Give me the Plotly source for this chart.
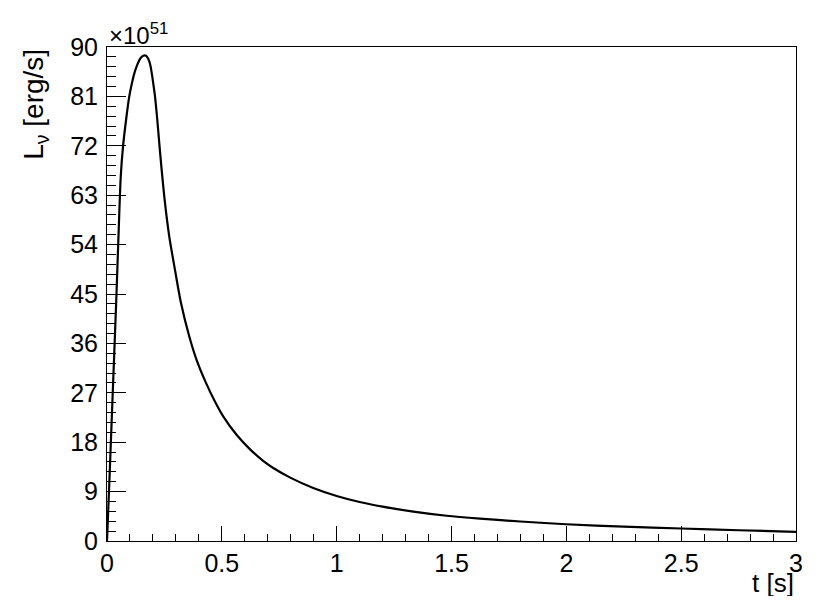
import plotly.graph_objects as go

# Time (s) and neutrino luminosity (units of 1e51 erg/s)
t_s = [0.0, 0.01, 0.02, 0.03, 0.04, 0.05, 0.06, 0.07, 0.083, 0.097, 0.108, 0.119,
       0.132, 0.145, 0.158, 0.17, 0.18, 0.188, 0.195, 0.202, 0.209, 0.219, 0.228,
       0.238, 0.2525, 0.271, 0.296, 0.322, 0.358, 0.39, 0.431, 0.47, 0.506, 0.565,
       0.623, 0.68, 0.724, 0.8, 0.898, 1.0, 1.1, 1.2, 1.334, 1.479, 1.624, 1.8,
       2.0, 2.25, 2.5, 2.75, 3.0]
L_nu = [0.0, 10.5, 21.5, 32.5, 43.5, 55.5, 66.5, 72.0, 76.7, 81.0, 83.3, 85.2,
        86.8, 87.9, 88.4, 88.4, 87.8, 86.8, 85.2, 83.2, 81.0, 76.7, 72.3,
        67.6, 61.6, 55.5, 49.4, 43.4, 37.3, 33.0, 28.8, 25.4, 22.7, 19.3,
        16.7, 14.6, 13.3, 11.5, 9.66, 8.2, 7.1, 6.25, 5.35, 4.6, 4.08, 3.55,
        3.05, 2.62, 2.28, 1.96, 1.67]

x_tickvals = [0, 0.5, 1, 1.5, 2, 2.5, 3]
x_ticktext = ["0", "0.5", "1", "1.5", "2", "2.5", "3"]
y_tickvals = [0, 9, 18, 27, 36, 45, 54, 63, 72, 81, 90]
y_ticktext = ["0", "9", "18", "27", "36", "45", "54", "63", "72", "81", "90"]
x_range = [0, 3]
y_range = [0, 90]
x_minor, y_minor = 0.1, 1.8

FONT = "Liberation Sans, Arial, Helvetica, sans-serif"
FS = 25

fig = go.Figure()
fig.add_trace(go.Scatter(
    x=t_s, y=L_nu, mode="lines",
    line=dict(color="black", width=2.2, shape="spline", smoothing=0.8),
    showlegend=False, hoverinfo="skip",
))

axis_common = dict(
    showgrid=False, zeroline=False, showline=True, linecolor="black",
    linewidth=1, mirror=True, ticks="inside", tickcolor="black",
    tickwidth=1, automargin=False,
    tickfont=dict(family=FONT, size=FS, color="black"),
)

fig.update_xaxes(
    range=x_range, tickmode="array", tickvals=x_tickvals, ticktext=x_ticktext,
    ticklen=15,
    minor=dict(dtick=x_minor, tick0=0, ticks="inside", ticklen=7,
               tickcolor="black", tickwidth=1),
    **axis_common,
)
fig.update_yaxes(
    range=y_range, tickmode="array", tickvals=y_tickvals, ticktext=y_ticktext,
    ticklen=19,
    minor=dict(dtick=y_minor, tick0=0, ticks="inside", ticklen=9,
               tickcolor="black", tickwidth=1),
    ticklabelstandoff=3,
    **axis_common,
)

# The page body adds an 8px margin, so the figure is sized/offset to compensate
fig.update_layout(
    width=814, height=588,
    margin=dict(l=99, r=26, t=39, b=55, pad=0),
    paper_bgcolor="white", plot_bgcolor="white",
    font=dict(family=FONT, size=FS, color="black"),
    annotations=[
        dict(text="L<sub>ν</sub> [erg/s]", xref="paper", yref="paper",
             x=-0.104, y=1.0, xanchor="center", yanchor="top",
             textangle=-90, showarrow=False, font=dict(family=FONT, size=28)),
        dict(text="t [s]", xref="paper", yref="paper",
             x=1.0, y=-0.086, xanchor="right", yanchor="middle",
             showarrow=False, font=dict(family=FONT, size=26)),
        dict(text="×10<sup>51</sup>", xref="paper", yref="paper",
             x=0.0, y=1.0, xanchor="left", yanchor="bottom", yshift=-4,
             showarrow=False, font=dict(family=FONT, size=24)),
    ],
)

fig.write_html("out.html")
